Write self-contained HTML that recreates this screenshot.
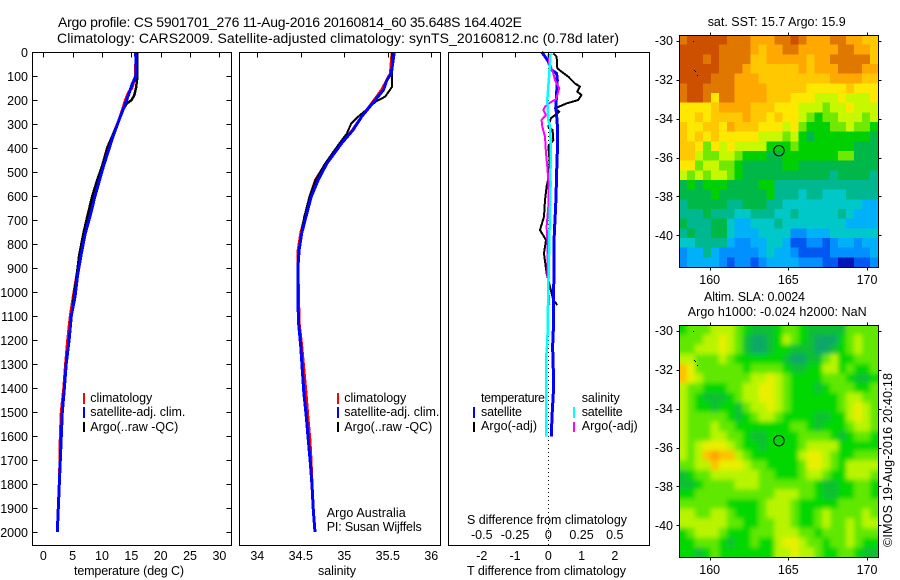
<!DOCTYPE html>
<html>
<head>
<meta charset="utf-8">
<title>Argo profile</title>
<style>
html,body{margin:0;padding:0;background:#fff;}
svg{display:block;}
text{font-family:"Liberation Sans",sans-serif;font-size:12.5px;fill:#000;}
.t{font-size:14px;}
</style>
</head>
<body>
<svg id="fig" width="900" height="580" viewBox="0 0 900 580" xmlns="http://www.w3.org/2000/svg">
<defs>
<clipPath id="m1"><rect x="679" y="35" width="199" height="232"/></clipPath>
<clipPath id="m2"><rect x="679" y="325" width="199" height="232"/></clipPath>
<filter id="soft" x="-10%" y="-10%" width="120%" height="120%"><feGaussianBlur stdDeviation="2.5"/></filter>
</defs>
<g id="maps"></g>
<g id="plots"></g>

<text class="t" x="58" y="27" textLength="464">Argo profile: CS 5901701_276 11-Aug-2016 20160814_60 35.648S 164.402E</text>
<text class="t" x="57" y="43" textLength="562">Climatology: CARS2009. Satellite-adjusted climatology: synTS_20160812.nc (0.78d later)</text>

<text x="74" y="575" textLength="110">temperature (deg C)</text>
<text x="318" y="575" textLength="38">salinity</text>
<text x="467" y="575" textLength="159">T difference from climatology</text>
<text x="467" y="524" textLength="160">S difference from climatology</text>

<g>
<rect x="83" y="393" width="2" height="11" fill="#f00"/>
<rect x="83" y="407" width="2" height="11" fill="#00f"/>
<rect x="83" y="422" width="2" height="10" fill="#000"/>
<text x="90.3" y="402" textLength="62">climatology</text>
<text x="90.3" y="416" textLength="95">satellite-adj. clim.</text>
<text x="90.3" y="431" textLength="88">Argo(..raw -QC)</text>
</g>
<g>
<rect x="337" y="393" width="2" height="11" fill="#f00"/>
<rect x="337" y="407" width="2" height="11" fill="#00f"/>
<rect x="337" y="422" width="2" height="10" fill="#000"/>
<text x="344.3" y="402" textLength="62">climatology</text>
<text x="344.3" y="416" textLength="95">satellite-adj. clim.</text>
<text x="344.3" y="431" textLength="88">Argo(..raw -QC)</text>
</g>
<text x="326.7" y="517" textLength="79">Argo Australia</text>
<text x="326.7" y="531" textLength="95">PI: Susan Wijffels</text>

<g>
<text x="481" y="402" textLength="64">temperature</text>
<text x="481" y="416" textLength="41">satellite</text>
<text x="481" y="430" textLength="56">Argo(-adj)</text>
<rect x="473" y="407" width="2" height="11" fill="#00f"/>
<rect x="473" y="422" width="2" height="10" fill="#000"/>
<text x="581.7" y="402" textLength="38">salinity</text>
<text x="581.7" y="416" textLength="41">satellite</text>
<text x="581.7" y="430" textLength="56">Argo(-adj)</text>
<rect x="573" y="407" width="2" height="11" fill="#0ff"/>
<rect x="573" y="422" width="2" height="10" fill="#f0f"/>
</g>

<text x="707.7" y="26" textLength="138">sat. SST: 15.7 Argo: 15.9</text>
<text x="704" y="301" textLength="101">Altim. SLA: 0.0024</text>
<text x="687.7" y="316" textLength="179">Argo h1000: -0.024 h2000: NaN</text>
<text transform="translate(892,547) rotate(-90)" x="0" y="0" textLength="174">©IMOS 19-Aug-2016 20:40:18</text>
</svg>

<script>
/* ---------- profile data ---------- */
const depthTicks = [0,100,200,300,400,500,600,700,800,900,1000,1100,1200,1300,1400,1500,1600,1700,1800,1900,2000];
const tempTicks = [0,5,10,15,20,25,30];
const salTicks = [34,34.5,35,35.5,36];
const salTickLabels = ['34','34.5','35','35.5','36'];
const tDiffTicks = [-2,-1,0,1,2];
const sDiffTicks = [-0.5,-0.25,0,0.25,0.5];
const sDiffTickLabels = ['-0.5','-0.25','0','0.25','0.5'];
const lonTicks = [160,165,170];
const latTicks = [-30,-32,-34,-36,-38,-40];

const tempClimDepth = [0,100,150,170,200,240,290,350,400,480,540,600,680,760,850,930,1000,1100,1200,1300,1400,1500,1600,1700,1800,1900,2000];
const tempClim = [15.8,15.7,15.1,14.5,14.0,13.5,12.8,11.8,10.9,10.05,9.3,8.6,7.7,7.05,6.25,5.7,5.23,4.6,4.15,3.8,3.5,3.07,2.9,2.85,2.73,2.56,2.39];
const tempSatDepth = [0,100,130,180,240,290,350,410,480,540,600,680,760,850,930,1020,1100,1200,1300,1400,1500,1600,1700,1800,1900,2000];
const tempSat = [15.74,15.8,15.2,14.5,13.6,12.8,11.9,11.1,10.2,9.5,8.8,8.0,7.1,6.4,5.85,5.4,4.77,4.4,3.9,3.6,3.24,3.07,2.9,2.73,2.56,2.39];
const tempArgoDepth = [0,110,150,180,200,215,240,290,350,400,480,540,600,680,760,850,930,1020,1055];
const tempArgo = [16.0,16.0,15.8,15.5,15.05,14.2,13.6,12.8,11.75,10.9,9.95,9.1,8.35,7.55,6.8,6.1,5.7,5.2,5.05];

const salClimDepth = [0,89,117,158,207,269,325,380,464,533,603,686,755,825,880,1130,1225,1325,1422,1519,1617,1700,1811,1908,2000];
const salClim = [35.55,35.53,35.49,35.43,35.33,35.2,35.095,34.97,34.79,34.67,34.605,34.55,34.5,34.47,34.465,34.48,34.51,34.536,34.56,34.58,34.605,34.617,34.63,34.644,34.663];
const salSatDepth = [0,89,117,158,207,269,325,380,464,533,603,686,755,825,880,1075,1130,1228,1325,1422,1519,1617,1714,1811,1908,2000];
const salSat = [35.575,35.54,35.49,35.45,35.34,35.2,35.1,34.97,34.8,34.7,34.62,34.56,34.51,34.48,34.47,34.47,34.475,34.5,34.517,34.536,34.563,34.586,34.61,34.63,34.644,34.663];
const salArgoDepth = [0,144,155,186,207,242,269,297,339,388,464,533,603,686,741,825,908,1055];
const salArgo = [35.55,35.55,35.53,35.47,35.36,35.25,35.16,35.08,35.03,34.93,34.78,34.67,34.6,34.54,34.51,34.48,34.47,34.47];

const dTSatDepth = [0,15,40,75,89,117,228,318,420,505,560,650,755,830,1060,1130,1228,1325,1422,1519,1603];
const dTSat = [-0.2,-0.12,0,0.1,0.25,0.27,0.23,0.28,0.27,0.25,0.24,0.22,0.18,0.17,0.16,0.16,0.13,0.15,0.15,0.11,0.09];
const dTArgoDepth = [6,19,68,82,103,131,144,165,179,200,214,235,249,276,311,325,367,394,436,506,561,617,686,742,783,839,922,978,1033,1054];
const dTArgo = [0.15,0.25,0.27,0.4,0.6,0.8,0.95,0.87,1.0,0.9,0.55,0.2,0.33,0.08,0,0.13,0.15,0,0.03,0.03,-0.05,-0.1,-0.13,-0.25,-0.07,-0.13,-0.05,0.05,0.15,0.27];
const dSSatDepth = [6,89,144,200,283,311,367,436,506,547,644,783,922,1061,1172,1228,1283,1422,1603];
const dSSat = [0.0175,0.0075,0,-0.0075,0,0.0125,0.0175,0.02,0.015,0.0175,0.0125,0.0075,0.0025,-0.0025,-0.005,-0.01,-0.0175,-0.0175,-0.0175];
const dSArgoDepth = [8,47,89,117,131,151,179,197,211,228,242,263,283,311,353,422,478,533,644,728,783,922,1055];
const dSArgo = [0,0.0075,0.0375,0.05,0.0625,0.0825,0.0675,0.0575,0.0125,-0.025,-0.0375,-0.0175,-0.05,-0.045,-0.025,-0.0175,-0.0075,0,0,-0.0125,-0.0075,-0.005,0.0075];

/* ---------- map data: colour-scale level per half-degree cell, north to south ---------- */
const sstLevels = [
[13,14,14,14,14,14,13,13,13,12,12,12,13,13,14,13,12,12,12,13,13,12,12,11,11],
[14,14,14,14,14,13,13,13,13,12,11,12,12,13,13,12,12,12,12,12,13,13,12,12,11],
[14,14,14,13,14,13,13,13,13,11,11,12,12,12,12,12,11,12,12,13,13,13,13,13,11],
[14,14,14,14,14,13,13,13,12,11,11,11,11,11,11,12,11,12,12,12,13,13,13,12,12],
[14,14,14,14,13,13,13,12,12,12,11,11,11,11,11,11,11,11,11,12,12,12,12,11,11],
[13,14,14,13,13,13,13,12,12,12,12,11,11,11,11,11,10,10,10,10,10,11,10,10,10],
[13,14,14,13,10,13,13,12,12,12,12,11,11,11,10,10,10,9,9,9,10,9,9,9,10],
[10,10,10,10,11,12,12,12,12,11,11,11,10,10,10,9,9,9,8,9,9,10,9,9,9],
[10,10,11,10,11,11,11,11,12,11,11,10,11,10,10,9,8,7,8,8,9,9,9,8,9],
[11,10,10,11,11,10,12,11,11,11,10,10,10,9,10,8,7,7,7,8,8,9,8,8,7],
[11,10,11,10,11,10,10,10,10,10,9,9,9,8,9,7,6,7,7,7,7,7,7,7,6],
[11,11,10,8,10,9,10,9,9,9,9,7,7,7,8,7,7,7,7,7,7,7,6,6,6],
[11,11,9,8,8,9,9,8,7,7,7,6,6,7,7,7,7,7,7,7,8,8,6,6,6],
[10,10,8,9,9,8,8,7,6,6,6,6,6,7,7,6,6,6,6,6,6,6,6,6,6],
[9,8,9,8,9,9,8,7,6,6,6,6,6,6,6,6,6,6,6,5,6,6,6,6,5],
[6,7,6,7,7,7,6,6,6,6,7,7,5,5,5,5,5,5,5,5,5,5,5,5,5],
[6,6,6,6,7,6,6,6,6,6,6,7,5,5,5,4,5,5,4,4,4,5,5,5,5],
[5,6,6,6,6,6,5,5,6,6,6,5,5,4,4,4,4,4,4,4,4,4,4,3,3],
[5,5,5,6,5,5,5,4,4,5,5,5,4,4,5,4,4,4,4,4,5,4,3,3,3],
[6,5,5,5,6,6,4,3,3,4,4,4,5,4,4,4,4,4,4,4,4,3,3,3,3],
[5,6,5,5,6,6,4,3,3,3,4,4,4,4,2,2,3,3,3,4,4,4,4,4,4],
[4,4,5,5,5,5,3,2,2,3,3,4,4,3,1,1,2,2,1,2,3,3,2,3,3],
[2,3,3,5,3,2,2,2,2,2,3,4,3,3,2,1,1,1,1,2,2,2,2,2,3],
[2,3,3,3,3,2,1,2,2,1,2,3,3,3,3,2,2,2,1,1,0,0,1,1,2]
];
const slaLevels = [
[7,8,8,8,9,9,9,8,7,6,6,6,7,8,8,7,6,6,6,6,6,8,8,8,8],
[8,8,8,9,9,10,9,8,6,5,5,6,7,9,8,7,6,5,5,5,7,8,9,8,8],
[8,8,9,9,9,10,9,8,6,5,5,6,7,7,6,6,6,5,5,6,7,8,9,8,8],
[9,9,8,8,8,9,8,7,7,7,7,7,7,6,5,5,6,6,8,9,7,7,8,8,8],
[11,10,8,8,8,8,8,8,7,8,8,8,8,7,6,6,7,7,9,9,7,8,7,7,8],
[11,10,9,8,8,8,8,8,8,9,9,10,9,8,7,7,7,7,8,8,8,7,6,6,7],
[9,8,8,7,7,7,8,8,9,9,10,10,9,8,7,7,7,6,7,8,8,8,7,7,8],
[9,8,7,6,6,6,7,8,9,9,10,10,9,8,7,7,7,7,7,7,8,9,9,8,8],
[9,8,7,7,6,7,7,6,8,9,9,10,9,8,7,7,7,7,7,7,8,9,10,9,8],
[9,8,8,8,8,8,7,6,7,8,9,9,8,7,7,7,7,6,6,7,7,9,10,9,8],
[9,8,8,8,9,8,8,7,7,7,7,7,7,7,8,8,7,6,7,7,7,8,9,9,8],
[9,8,8,8,9,9,8,8,7,6,6,7,7,7,7,8,8,8,8,7,6,7,8,8,7],
[9,8,9,10,10,10,9,8,7,7,6,7,7,7,7,8,9,9,9,9,7,7,7,7,7],
[9,8,9,11,12,11,11,9,8,7,7,7,7,7,7,9,10,10,9,8,7,7,8,8,8],
[8,8,9,9,11,10,10,10,9,8,8,7,7,7,7,8,10,10,9,8,7,9,9,9,9],
[6,7,8,8,9,9,9,9,9,9,8,8,7,7,7,8,9,9,8,7,7,9,9,9,8],
[6,6,7,8,8,8,8,9,9,9,8,8,8,8,8,8,8,7,6,6,7,7,8,8,7],
[7,7,8,8,8,8,8,8,8,8,8,8,9,9,9,8,8,7,6,6,7,7,8,8,7],
[8,8,8,8,8,8,7,7,7,7,8,9,9,9,8,7,7,7,7,7,8,8,8,8,8],
[9,9,8,8,9,9,8,7,7,7,8,9,9,9,8,7,7,8,9,8,8,8,8,9,8],
[9,9,9,9,9,9,8,8,7,7,8,8,9,9,8,7,7,8,9,8,8,9,8,9,9],
[7,8,9,9,9,8,7,7,7,8,8,8,9,9,9,8,8,7,8,8,8,9,8,8,8],
[7,7,8,8,8,7,6,7,7,8,7,7,9,10,10,9,8,8,7,8,8,9,8,7,7],
[7,7,6,7,8,7,7,7,7,7,7,7,9,9,10,9,9,8,7,7,8,8,7,6,6]
];
const floatLon = [164.402];
const floatLat = [-35.648];

/* ---------- colour scales (style) ---------- */
const sstPalette = ['#0018b8','#0058f0','#0090ff','#00b0f8','#00c8c8','#00b890','#00b848','#00d000','#70e800','#c8f800','#ffe800','#ffc800','#ffa800','#e07800','#cc5000'];
const slaPalette = ['#0018b8','#0058f0','#0090ff','#00b0f8','#00c8c8','#10a868','#10c030','#00d800','#60e800','#b8f400','#e8f000','#ffc000','#ffa000','#e07800','#cc5000'];

/* ---------- axis functions ---------- */
const yDepth = d => 52 + 0.24 * d;
const xTemp = v => 43.3 + 5.87 * v;
const xSal = v => 257.3 + 87 * (v - 34);
const xDT = v => 548.3 + 33.25 * v;
const xDS = v => 548.3 + 133 * v;
const xLon = v => 709.7 + 15.73 * (v - 160);
const yLat = (v, top) => top + 5.7 + 19.47 * (-30 - v);

const NS = 'http://www.w3.org/2000/svg';
function mk(parent, tag, attrs, txt) {
  const el = document.createElementNS(NS, tag);
  for (const k in attrs) el.setAttribute(k, attrs[k]);
  if (txt !== undefined) el.textContent = txt;
  parent.appendChild(el);
  return el;
}
const plots = document.getElementById('plots');
const maps = document.getElementById('maps');

function tickLine(parent, x1, y1, x2, y2) {
  const el = mk(parent, 'line', {x1:Math.round(x1)+0.5, y1:Math.round(y1)+0.5, x2:Math.round(x2)+0.5, y2:Math.round(y2)+0.5, stroke:'#000', 'stroke-width':1, 'shape-rendering':'crispEdges'});
  
  
  return el;
}
function tickText(parent, x, y, anchor, s) {
  const el = mk(parent, 'text', {x:x, y:y, 'text-anchor':anchor}, s);
  
  
  return el;
}
function frame(parent, x, y, w, h, name) {
  const el = mk(parent, 'rect', {x:x+0.5, y:y+0.5, width:w, height:h, fill:'none', stroke:'#000', 'stroke-width':1, 'shape-rendering':'crispEdges'});
  
  
  return el;
}
function profile(parent, depths, values, xFn, color, width, name) {
  const pts = depths.map((d, i) => xFn(values[i]).toFixed(1) + ',' + yDepth(d).toFixed(1)).join(' ');
  const el = mk(parent, 'polyline', {points:pts, fill:'none', stroke:color, 'stroke-width':width, 'shape-rendering':'crispEdges', 'stroke-linejoin':'round'});
  
  
  return el;
}

/* ---------- panel 1: temperature ---------- */
profile(plots, tempClimDepth, tempClim, xTemp, '#f00', 3, 'climatology-temperature-line');
profile(plots, tempArgoDepth, tempArgo, xTemp, '#000', 2.5, 'argo-temperature-line');
profile(plots, tempSatDepth, tempSat, xTemp, '#00f', 3, 'satellite-adjusted-temperature-line');
frame(plots, 32, 52, 199, 493, 'temperature-panel-frame');
depthTicks.forEach(d => {
  tickLine(plots, 32, yDepth(d), 37, yDepth(d));
  tickLine(plots, 226, yDepth(d), 231, yDepth(d));
  tickText(plots, 28, yDepth(d) + 5, 'end', String(d));
});
tempTicks.forEach(v => {
  tickLine(plots, xTemp(v), 52, xTemp(v), 57);
  tickText(plots, xTemp(v), 560, 'middle', String(v));
});

/* ---------- panel 2: salinity ---------- */
profile(plots, salClimDepth, salClim, xSal, '#f00', 3, 'climatology-salinity-line');
profile(plots, salArgoDepth, salArgo, xSal, '#000', 2, 'argo-salinity-line');
profile(plots, salSatDepth, salSat, xSal, '#00f', 3, 'satellite-adjusted-salinity-line');
frame(plots, 239, 52, 201, 493, 'salinity-panel-frame');
salTicks.forEach((v, i) => {
  tickLine(plots, xSal(v), 52, xSal(v), 57);
  tickText(plots, xSal(v), 560, 'middle', salTickLabels[i]);
});

/* ---------- panel 3: differences ---------- */
const zeroLine = mk(plots, 'line', {x1:548.5, y1:52, x2:548.5, y2:545, stroke:'#000', 'stroke-width':1, 'stroke-dasharray':'1 3', 'shape-rendering':'crispEdges'});


profile(plots, dTArgoDepth, dTArgo, xDT, '#000', 2, 'argo-temperature-difference-line');
profile(plots, dTSatDepth, dTSat, xDT, '#00f', 3, 'satellite-temperature-difference-line');
profile(plots, dSArgoDepth, dSArgo, xDS, '#f0f', 2, 'argo-salinity-difference-line');
profile(plots, dSSatDepth, dSSat, xDS, '#0ff', 2.5, 'satellite-salinity-difference-line');
frame(plots, 448, 52, 201, 493, 'difference-panel-frame');
tDiffTicks.forEach(v => {
  tickLine(plots, xDT(v), 52, xDT(v), 57);
  tickText(plots, xDT(v), 560, 'middle', String(v));
});
sDiffTicks.forEach((v, i) => {
  tickText(plots, xDS(v), 539, 'middle', sDiffTickLabels[i]);
});

/* ---------- maps ---------- */
function drawMap(levels, palette, top, clipId, smooth, name) {
  const outer = mk(maps, 'g', {'clip-path':'url(#' + clipId + ')'});
  
  
  const g = mk(outer, 'g', smooth ? {filter:'url(#soft)'} : {'shape-rendering':'crispEdges'});
  const nRows = levels.length;
  const nCols = levels[0].length;
  const cw = 199 / nCols;
  const ch = 232 / nRows;
  levels.forEach((row, r) => {
    row.forEach((lvl, c) => {
      let x = 679 + c * cw, y = top + r * ch, w = cw + 0.5, h = ch + 0.5;
      if (smooth && c === 0) { x -= 14; w += 14; }
      if (smooth && c === nCols - 1) { w += 14; }
      if (smooth && r === 0) { y -= 14; h += 14; }
      if (smooth && r === nRows - 1) { h += 14; }
      const cell = mk(g, 'rect', {x:x.toFixed(2), y:y.toFixed(2), width:w.toFixed(2), height:h.toFixed(2), fill:palette[lvl]});
      
      
    });
  });
  /* small coastline specks near top left */
  [[693,41],[694,70],[695,71],[697,75]].forEach(p => {
    const s = mk(outer, 'rect', {x:p[0], y:p[1] + top - 35, width:1, height:1, fill:'#000'});
    
    
  });
  frame(maps, 679, top, 199, 232, name + '-frame');
  floatLon.forEach((lon, i) => {
    const mark = mk(maps, 'circle', {cx:xLon(lon), cy:yLat(floatLat[i], top), r:5.2, fill:'none', stroke:'#000', 'stroke-width':1});
    
    
  });
  lonTicks.forEach(v => {
    tickLine(maps, xLon(v), top - 3, xLon(v), top);
    tickLine(maps, xLon(v), top + 232, xLon(v), top + 235);
    tickText(maps, xLon(v), top + 249, 'middle', String(v));
  });
  latTicks.forEach(v => {
    const y = yLat(v, top);
    tickLine(maps, 676, y, 679, y);
    tickLine(maps, 878, y, 881, y);
    tickText(maps, 673, y + 4.5, 'end', String(v));
  });
}
drawMap(sstLevels, sstPalette, 35, 'm1', false, 'sst-map');
drawMap(slaLevels, slaPalette, 325, 'm2', true, 'sla-map');
</script>
</body>
</html>
